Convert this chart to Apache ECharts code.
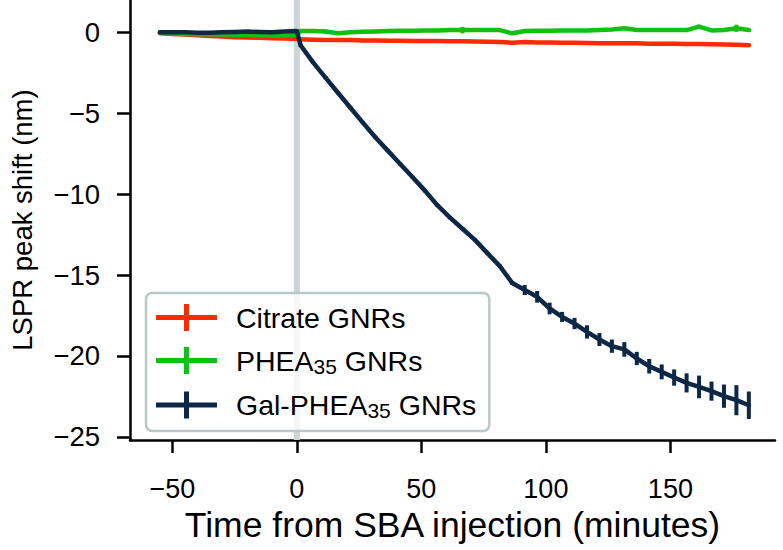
<!DOCTYPE html>
<html>
<head>
<meta charset="utf-8">
<script src="https://cdn.jsdelivr.net/npm/echarts@6/dist/echarts.min.js"></script>
<style>
html,body{margin:0;padding:0;background:#fff;}
#chart{width:783px;height:550px;}
</style>
</head>
<body>
<div id="chart"></div>
<script>
// ---- data ----
const time = [-55,-50,-45,-40,-35,-30,-25,-20,-15,-10,-5,0,
  1.5,6.5,11.5,16.5,21.5,26.5,31.5,36.5,41.5,46.5,51.5,56.5,61.5,66.5,71.5,76.5,81.5,86.5,
  91.5,96.5,101.5,106.5,111.5,116.5,121.5,126.5,131.5,136.5,141.5,146.5,151.5,156.5,161.5,166.5,171.5,176.5,181.5];

const citrate = [-0.05,-0.1,-0.14,-0.18,-0.22,-0.26,-0.3,-0.32,-0.34,-0.36,-0.38,-0.4,
  -0.42,-0.45,-0.47,-0.48,-0.47,-0.5,-0.5,-0.52,-0.52,-0.54,-0.54,-0.54,-0.55,-0.55,-0.57,-0.58,-0.6,-0.64,
  -0.6,-0.62,-0.63,-0.64,-0.65,-0.66,-0.68,-0.67,-0.68,-0.68,-0.7,-0.7,-0.7,-0.72,-0.72,-0.73,-0.75,-0.77,-0.79];
const citrateErr = [0,0,0,0,0,0,0,0,0,0,0,0,
  0.05,0.05,0.05,0.05,0.05,0.05,0.05,0.05,0.05,0.05,0.05,0.05,0.05,0.05,0.05,0.05,0.05,0.05,
  0.05,0.05,0.05,0.05,0.05,0.05,0.05,0.05,0.05,0.05,0.06,0.06,0.06,0.06,0.07,0.07,0.07,0.08,0.08];

const phea = [0,-0.05,-0.1,-0.12,-0.12,-0.13,-0.15,-0.15,-0.18,-0.2,-0.2,-0.15,
  0.08,0.08,0.05,-0.06,0,0.04,0.06,0.08,0.1,0.1,0.12,0.12,0.14,0.14,0.14,0.14,0.14,-0.06,
  0.08,0.1,0.1,0.12,0.12,0.12,0.14,0.18,0.25,0.14,0.14,0.14,0.14,0.14,0.35,0.12,0.14,0.25,0.14];
const pheaErr = [0,0,0,0,0,0,0,0,0,0,0,0,
  0.12,0.12,0.12,0.05,0.05,0.05,0.05,0.05,0.05,0.05,0.05,0.05,0.05,0.2,0.05,0.05,0.05,0.05,
  0.05,0.05,0.05,0.05,0.05,0.05,0.05,0.05,0.08,0.05,0.05,0.05,0.05,0.05,0.12,0.05,0.05,0.22,0.08];

const gal = [0,0,0,-0.02,-0.02,0,0.02,0.05,0.02,0,0.05,0.08,
  -0.8,-1.86,-2.8,-3.73,-4.66,-5.58,-6.48,-7.31,-8.14,-8.96,-9.8,-10.7,-11.45,-12.14,-12.83,-13.65,-14.45,-15.5,
  -15.93,-16.35,-17.07,-17.59,-18.0,-18.52,-18.99,-19.4,-19.6,-20.16,-20.64,-20.99,-21.34,-21.67,-21.92,-22.18,-22.49,-22.74,-23.05];
const galErr = [0,0,0,0,0,0,0,0,0,0,0,0,
  0.1,0.1,0.1,0.1,0.1,0.1,0.1,0.1,0.1,0.1,0.1,0.1,0.1,0.1,0.1,0.1,0.1,0.1,
  0.31,0.36,0.36,0.31,0.35,0.41,0.4,0.41,0.45,0.41,0.45,0.46,0.5,0.59,0.7,0.59,0.72,0.93,0.85];

const seriesNames = ['Citrate GNRs', 'PHEA35 GNRs', 'Gal-PHEA35 GNRs'];
const xTicks = [-50, 0, 50, 100, 150];
const yTicks = [0, -5, -10, -15, -20, -25];
const injectionTime = [0];

// ---- style ----
const FONT = '"Liberation Sans", Arial, sans-serif';
const colors = ['#ff2a00', '#11c011', '#0d2747'];

function fmt(v) { return v < 0 ? '\u2212' + Math.abs(v) : String(v); }

function lineSeries(name, vals, color) {
  return {
    name: name, type: 'line', data: time.map((t, i) => [t, vals[i]]),
    showSymbol: false, symbol: 'none', animation: false,
    lineStyle: { color: color, width: 4.5, cap: 'round', join: 'round' },
    itemStyle: { color: color }, z: 3
  };
}
function errSeries(name, vals, errs, color) {
  return {
    name: name, type: 'custom', animation: false, silent: true, z: 3,
    data: time.map((t, i) => [t, vals[i] - errs[i], vals[i] + errs[i]]).filter((d, i) => errs[i] > 0),
    encode: { x: 0, y: [1, 2] },
    renderItem: function (params, api) {
      const p1 = api.coord([api.value(0), api.value(1)]);
      const p2 = api.coord([api.value(0), api.value(2)]);
      return { type: 'line', shape: { x1: p1[0], y1: p1[1], x2: p2[0], y2: p2[1] },
        style: { stroke: color, lineWidth: 4 } };
    }
  };
}

const chart = echarts.init(document.getElementById('chart'), null, { renderer: 'svg' });
chart.setOption({
  animation: false,
  backgroundColor: '#fff',
  textStyle: { fontFamily: FONT },
  grid: { left: 130, top: 0, width: 645, height: 440, containLabel: false },
  xAxis: {
    type: 'value', min: -67, max: 192,
    name: 'Time from SBA injection (minutes)', nameLocation: 'middle', nameGap: 67,
    nameTextStyle: { fontSize: 35.5, color: '#000', fontFamily: FONT },
    axisLine: { show: true, onZero: false, lineStyle: { color: '#000', width: 2.5 } },
    axisTick: { show: true, length: 13, lineStyle: { color: '#000', width: 2.5 }, customValues: xTicks },
    axisLabel: { fontSize: 27, color: '#000', margin: 35, fontFamily: FONT, customValues: xTicks, formatter: fmt },
    splitLine: { show: false }
  },
  yAxis: {
    type: 'value', min: -25.2, max: 2.0,
    name: 'LSPR peak shift (nm)', nameLocation: 'middle', nameGap: 94, nameRotate: 90,
    nameTextStyle: { fontSize: 27.5, color: '#000', fontFamily: FONT },
    axisLine: { show: true, onZero: false, lineStyle: { color: '#000', width: 2.5 } },
    axisTick: { show: true, length: 13, lineStyle: { color: '#000', width: 2.5 }, customValues: yTicks },
    axisLabel: { fontSize: 27.5, color: '#000', margin: 30, fontFamily: FONT, customValues: yTicks, formatter: fmt },
    splitLine: { show: false }
  },
  legend: {
    show: true, orient: 'vertical', left: 146, top: 293,
    data: seriesNames,
    icon: 'path://M0,11h61v5H0z M28,0h5v27h-5z',
    itemWidth: 61, itemHeight: 27, itemGap: 14,
    padding: [10, 13, 10, 10],
    backgroundColor: 'rgba(255,255,255,0.8)',
    borderColor: '#bcc8c8', borderWidth: 2.5, borderRadius: 6,
    selectedMode: false,
    formatter: function (name) { return name.replace('35', '{s|35}'); },
    textStyle: {
      fontSize: 28.5, color: '#000', fontFamily: FONT, padding: [0, 0, 0, 14],
      rich: { s: { fontSize: 21, color: '#000', fontFamily: FONT, padding: [11, 0, 0, 0] } }
    }
  },
  series: [
    {
      name: 'injection', type: 'custom', animation: false, silent: true, z: 1,
      data: injectionTime.map(t => [t]),
      renderItem: function (params, api) {
        const cs = params.coordSys;
        const x = api.coord([api.value(0), 0])[0];
        return { type: 'line', shape: { x1: x, y1: cs.y, x2: x, y2: cs.y + cs.height },
          style: { stroke: '#cbd5d5', lineWidth: 6 } };
      }
    },
    lineSeries(seriesNames[0], citrate, colors[0]),
    errSeries('citrateErr', citrate, citrateErr, colors[0]),
    lineSeries(seriesNames[1], phea, colors[1]),
    errSeries('pheaErr', phea, pheaErr, colors[1]),
    lineSeries(seriesNames[2], gal, colors[2]),
    errSeries('galErr', gal, galErr, colors[2])
  ]
});
</script>
</body>
</html>
